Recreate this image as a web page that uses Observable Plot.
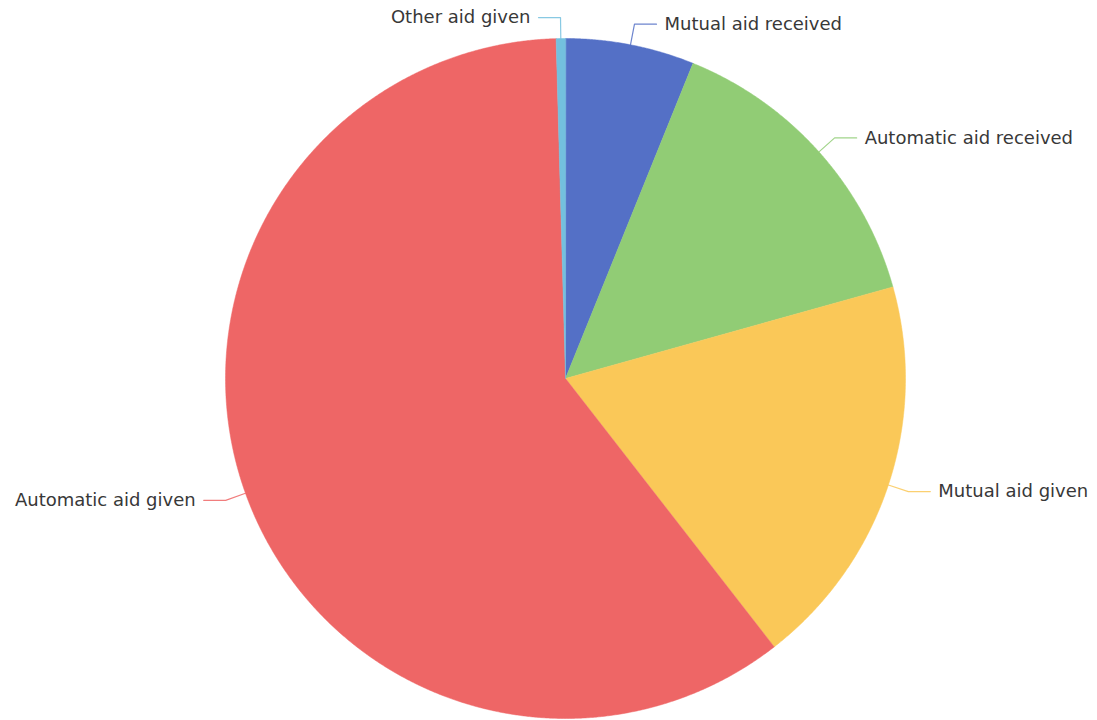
<!DOCTYPE html>
<html>
<head>
<meta charset="utf-8">
<script src="https://cdn.jsdelivr.net/npm/d3@7"></script>
<script src="https://cdn.jsdelivr.net/npm/@observablehq/plot@0.6"></script>
<style>
  html, body { margin: 0; padding: 0; background: #ffffff; }
  #chart { width: 1097px; height: 720px; }
  svg { display: block; }
</style>
</head>
<body>
<div id="chart"></div>
<script>
// ---- data ----
const categories = ["Mutual aid received", "Automatic aid received", "Mutual aid given", "Automatic aid given", "Other aid given"];
const values = [6.12, 14.54, 18.82, 60.08, 0.44];
const colors = ["#5470c6", "#91cc75", "#fac858", "#ee6666", "#73c0de"];

// ---- layout ----
const W = 1097, H = 720;
const CX = 565, CY = 378, R = 340;
const L1 = 21, L2 = 22, GAP = 8;

const rows = categories.map((name, i) => ({name, value: values[i]}));
const arcs = d3.pie().value(d => d.value).sort(null).startAngle(0).endAngle(2 * Math.PI)(rows);

const pt = (a, r) => ({x: CX + r * Math.sin(a), y: CY - r * Math.cos(a)});

// slice polygons
const slicePts = [];
arcs.forEach(a => {
  const name = a.data.name;
  const n = Math.max(2, Math.ceil((a.endAngle - a.startAngle) / (Math.PI / 720)));
  slicePts.push({name, ...pt(0, 0)});
  for (let k = 0; k <= n; k++) {
    const ang = a.startAngle + (a.endAngle - a.startAngle) * k / n;
    slicePts.push({name, ...pt(ang, R)});
  }
});

// leader lines & labels
const leaderPts = [];
const labels = [];
arcs.forEach(a => {
  const name = a.data.name;
  const mid = (a.startAngle + a.endAngle) / 2;
  const side = Math.sin(mid) >= 0 ? 1 : -1;
  const p0 = pt(mid, R), p1 = pt(mid, R + L1);
  const p2 = {x: p1.x + side * L2, y: p1.y};
  leaderPts.push({name, ...p0}, {name, ...p1}, {name, ...p2});
  labels.push({name, side, x: p2.x + side * GAP, y: p2.y});
});

const chart = Plot.plot({
  width: W, height: H,
  margin: 0,
  style: {background: "#ffffff", fontFamily: "DejaVu Sans, sans-serif"},
  x: {domain: [0, W], range: [0, W], axis: null},
  y: {domain: [0, H], range: [0, H], axis: null},
  color: {domain: categories, range: colors},
  marks: [
    Plot.line(slicePts, {x: "x", y: "y", z: "name", fill: "name", stroke: "name", strokeWidth: 0.5, curve: "linear-closed"}),
    Plot.line(leaderPts, {x: "x", y: "y", z: "name", stroke: "name", strokeWidth: 1.2, strokeOpacity: 0.85, curve: "linear"}),
    Plot.text(labels.filter(d => d.side > 0), {x: "x", y: "y", text: "name", textAnchor: "start", fontSize: 18, fill: "#383838", stroke: "white", strokeWidth: 3}),
    Plot.text(labels.filter(d => d.side < 0), {x: "x", y: "y", text: "name", textAnchor: "end", fontSize: 18, fill: "#383838", stroke: "white", strokeWidth: 3})
  ]
});
document.getElementById("chart").appendChild(chart);
</script>
</body>
</html>
